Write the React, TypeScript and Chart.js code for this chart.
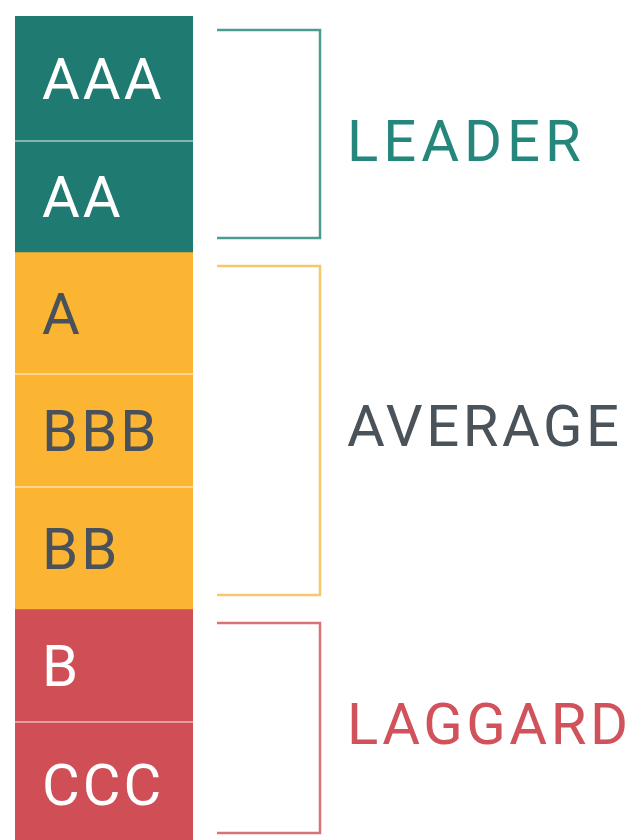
import React, { useEffect, useRef } from "react";
import { Chart, registerables } from "chart.js";

Chart.register(...registerables);

// ---- data ----
const ratings = ["AAA", "AA", "A", "BBB", "BB", "B", "CCC"];
const bandHeights = [12.5, 11.1, 12.2, 11.3, 12.2, 11.3, 12.5];
const ratingGroup = [0, 0, 1, 1, 1, 2, 2];
const groupNames = ["LEADER", "AVERAGE", "LAGGARD"];
const axisMax = 82.4;

// ---- styles ----
const barColors = ["#1f7b72", "#fcb433", "#d04e55"];
const bandTextColors = ["#ffffff", "#49515a", "#ffffff"];
const bracketColors = ["#4c9b91", "#f8c66c", "#d9737a"];
const groupTextColors = ["#25877c", "#4a525a", "#d1525a"];
const groupLabelNudge = [6, -5, -5];
const FONT_FAMILY = "Roboto, 'DejaVu Sans', sans-serif";
const FONT_SIZE = 58;
const CAP = 0.711 * FONT_SIZE;

const overlayPlugin = {
  id: "ratingOverlay",
  afterDatasetsDraw(chart: any) {
    const ctx = chart.ctx as CanvasRenderingContext2D;
    const y = chart.scales.y;
    const bar: any = chart.getDatasetMeta(0).data[0];
    const left = bar.x - bar.width / 2;
    const right = bar.x + bar.width / 2;

    const cum: number[] = [0];
    bandHeights.forEach((h, i) => cum.push(cum[i] + h));

    ctx.save();
    // separators within a group
    ctx.strokeStyle = "rgba(255,255,255,0.45)";
    ctx.lineWidth = 2;
    for (let i = 0; i < ratings.length - 1; i++) {
      if (ratingGroup[i] === ratingGroup[i + 1]) {
        const py = y.getPixelForValue(cum[i + 1]);
        ctx.beginPath();
        ctx.moveTo(left, py);
        ctx.lineTo(right, py);
        ctx.stroke();
      }
    }

    // band labels
    ctx.font = `${FONT_SIZE}px ${FONT_FAMILY}`;
    (ctx as any).letterSpacing = "3px";
    ctx.textAlign = "left";
    ctx.textBaseline = "alphabetic";
    ratings.forEach((r, i) => {
      const top = y.getPixelForValue(cum[i]);
      const bot = y.getPixelForValue(cum[i + 1]);
      const mid = (top + bot) / 2;
      ctx.fillStyle = bandTextColors[ratingGroup[i]];
      ctx.fillText(r, left + 27, mid + CAP / 2);
    });

    // brackets and group labels
    groupNames.forEach((name, g) => {
      const idx = ratingGroup.map((v, i) => (v === g ? i : -1)).filter((i) => i >= 0);
      const gTop = y.getPixelForValue(cum[idx[0]]);
      const gBot = y.getPixelForValue(cum[idx[idx.length - 1] + 1]);
      const bTop = gTop + 14;
      const bBot = gBot - 14;
      const x0 = right + 24;
      const x1 = right + 127;
      ctx.strokeStyle = bracketColors[g];
      ctx.lineWidth = 2.5;
      ctx.beginPath();
      ctx.moveTo(x0, bTop);
      ctx.lineTo(x1, bTop);
      ctx.lineTo(x1, bBot);
      ctx.lineTo(x0, bBot);
      ctx.stroke();

      ctx.fillStyle = groupTextColors[g];
      (ctx as any).letterSpacing = g === 0 ? "5px" : "3.5px";
      ctx.fillText(name, x1 + 27, (bTop + bBot) / 2 + CAP / 2 + groupLabelNudge[g]);
    });
    ctx.restore();
  },
};

export default function App() {
  const ref = useRef<HTMLCanvasElement | null>(null);

  useEffect(() => {
    if (!ref.current) return;
    const chart = new Chart(ref.current, {
      type: "bar",
      data: {
        labels: [""],
        datasets: ratings.map((r, i) => ({
          label: r,
          data: [bandHeights[i]],
          backgroundColor: barColors[ratingGroup[i]],
          borderWidth: 0,
          stack: "rating",
          barPercentage: 1,
          categoryPercentage: 1,
        })),
      },
      options: {
        animation: false,
        responsive: false,
        maintainAspectRatio: false,
        layout: { padding: { left: 15, right: 441, top: 16, bottom: 0 } },
        scales: {
          x: { display: false, stacked: true },
          y: { display: false, stacked: true, reverse: true, min: 0, max: axisMax },
        },
        plugins: { legend: { display: false }, tooltip: { enabled: false } },
      },
      plugins: [overlayPlugin],
    });
    return () => chart.destroy();
  }, []);

  return (
    <div style={{ position: "fixed", left: 0, top: 0, width: 634, height: 840, background: "#ffffff" }}>
      <canvas ref={ref} width={634} height={840} />
    </div>
  );
}
